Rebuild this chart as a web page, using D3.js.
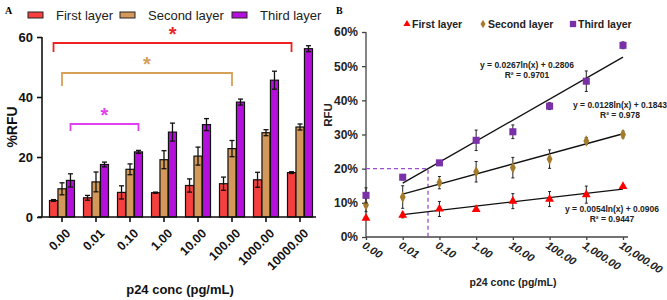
<!DOCTYPE html>
<html>
<head>
<meta charset="utf-8">
<script src="https://cdn.jsdelivr.net/npm/d3@7"></script>
<style>
  body { margin: 0; background: #fff; }
  svg { display: block; font-family: "Liberation Sans", Arial, sans-serif; }
</style>
</head>
<body>
<div id="chart"></div>
<script>
// data
const concA = ["0.00", "0.01", "0.10", "1.00", "10.00", "100.00", "1000.00", "10000.00"];
const concB = ["0.00", "0.01", "0.10", "1.00", "10.00", "100.00", "1,000.00", "10,000.00"];
const layerNames = ["First layer", "Second layer", "Third layer"];

const firstLayer = [5.5, 6.4, 8.2, 8.1, 10.5, 11.1, 12.4, 14.8];
const firstErr = [0.3, 0.8, 2.2, 0.2, 2.2, 2.2, 2.5, 0.3];
const secondLayer = [9.4, 11.7, 15.9, 19.1, 20.3, 22.8, 28.1, 30.0];
const secondErr = [2.0, 3.3, 1.8, 3.0, 3.0, 2.7, 1.0, 1.0];
const thirdLayer = [12.2, 17.5, 21.7, 28.3, 30.8, 38.3, 45.6, 56.1];
const thirdErr = [2.2, 0.8, 0.5, 3.0, 2.0, 1.0, 3.0, 1.0];

// log trendlines shown on panel B: y = a ln(x) + b
const trendSlope = [0.0054, 0.0128, 0.0267];
const trendIntercept = [0.0906, 0.1843, 0.2806];
const trendR2 = ["0.9447", "0.978", "0.9701"];

const yTicksA = [0, 20, 40, 60];
const yTicksB = [0, 0.1, 0.2, 0.3, 0.4, 0.5, 0.6];

const seriesVals = [firstLayer, secondLayer, thirdLayer];
const seriesErr = [firstErr, secondErr, thirdErr];
const barColors = ["#f5403f", "#d4995a", "#b50fdc"];
const markColors = ["#ff0000", "#a47a2c", "#7a30a6"];

const width = 667, height = 300;
const svg = d3.select("#chart").append("svg")
    .attr("width", width)
    .attr("height", height);

/* ---------- panel A ---------- */
let gA = svg.append("g");

let xA = d3.scaleBand().domain(concA).range([45, 317]);
let yA = d3.scaleLinear().domain([0, 60]).range([217, 37]);
let xInner = d3.scaleBand().domain([0, 1, 2]).range([-12.5, 12.5]).paddingInner(0.05);

gA.append("text").attr("x", 5).attr("y", 14)
    .style("font-family", "Liberation Serif, serif").style("font-weight", "bold").style("font-size", "10px")
    .text("A");

// legend
let legA = gA.append("g");
let legX = [28, 120, 232];
layerNames.forEach((name, i) => {
    legA.append("rect").attr("x", legX[i]).attr("y", 12).attr("width", 15).attr("height", 6)
        .attr("fill", barColors[i]).attr("stroke", "#222").attr("stroke-width", 1);
    legA.append("text").attr("x", legX[i] + 28).attr("y", 20)
        .style("font-size", "13px").attr("fill", "#222").text(name);
});

// bars
seriesVals.forEach((vals, s) => {
    let g = gA.append("g");
    g.selectAll("rect").data(vals).enter().append("rect")
        .attr("x", (d, i) => xA(concA[i]) + xA.bandwidth() / 2 + xInner(s))
        .attr("y", d => yA(d))
        .attr("width", xInner.bandwidth())
        .attr("height", d => yA(0) - yA(d))
        .attr("fill", barColors[s])
        .attr("stroke", "#111")
        .attr("stroke-width", 1.2);

    // error bars
    vals.forEach((d, i) => {
        let cx = xA(concA[i]) + xA.bandwidth() / 2 + xInner(s) + xInner.bandwidth() / 2;
        let e = seriesErr[s][i];
        g.append("line").attr("x1", cx).attr("x2", cx)
            .attr("y1", yA(d - e)).attr("y2", yA(d + e))
            .attr("stroke", "#111").attr("stroke-width", 1.3);
        [d - e, d + e].forEach(v => {
            g.append("line").attr("x1", cx - 2.5).attr("x2", cx + 2.5)
                .attr("y1", yA(v)).attr("y2", yA(v))
                .attr("stroke", "#111").attr("stroke-width", 1.3);
        });
    });
});

// axes
let axisYA = gA.append("g").attr("transform", "translate(42,0)")
    .call(d3.axisLeft(yA).tickValues(yTicksA).tickSize(5).tickFormat(d3.format("d")));
axisYA.selectAll("text").style("font-size", "13px").style("font-weight", "bold").attr("fill", "#111").attr("dx", "-1");
axisYA.select(".domain").attr("stroke", "#111").attr("stroke-width", 1.6).attr("d", "M0,217V37");
axisYA.selectAll(".tick line").attr("stroke", "#111").attr("stroke-width", 1.6);

let axisXA = gA.append("g").attr("transform", "translate(0,217)")
    .call(d3.axisBottom(xA).tickSize(5).tickSizeOuter(0));
axisXA.select(".domain").attr("stroke", "#111").attr("stroke-width", 1.6).attr("d", "M38,0H316");
axisXA.selectAll(".tick line").attr("stroke", "#111").attr("stroke-width", 1.6);
axisXA.selectAll("text")
    .style("font-size", "12.5px").style("font-weight", "bold").attr("fill", "#111")
    .attr("text-anchor", "end")
    .attr("transform", "translate(6,14) rotate(-45)")
    .attr("x", 0).attr("y", 0).attr("dy", "0.35em");

gA.append("text").attr("transform", "translate(17,127) rotate(-90)")
    .attr("text-anchor", "middle")
    .style("font-size", "14px").style("font-weight", "bold").attr("fill", "#111")
    .text("%RFU");

gA.append("text").attr("x", 180).attr("y", 294)
    .attr("text-anchor", "middle")
    .style("font-size", "13px").style("font-weight", "bold").attr("fill", "#111")
    .text("p24 conc (pg/mL)");

// significance brackets: [series, from index, to index, y level]
const brackets = [[0, 0, 7, 58], [1, 0, 5, 48], [2, 0, 2, 31]];
brackets.forEach(([s, i0, i1, lvl]) => {
    let xa = xA(concA[i0]) + xA.bandwidth() / 2 + xInner(s) + xInner.bandwidth() / 2;
    let xb = xA(concA[i1]) + xA.bandwidth() / 2 + xInner(s) + xInner.bandwidth() / 2;
    let yy = yA(lvl);
    let drop = s == 2 ? 7 : (s == 1 ? 13 : 9);
    let col = [ "#ee2222", "#d6a056", "#e040f0"][s];
    gA.append("path")
        .attr("d", `M${xa},${yy + drop}V${yy}H${xb}V${yy + drop}`)
        .attr("fill", "none").attr("stroke", col).attr("stroke-width", 1.8);
    gA.append("text").attr("x", (xa + xb) / 2).attr("y", yy - 2)
        .attr("text-anchor", "middle")
        .style("font-size", "20px").style("font-weight", "bold").attr("fill", col)
        .text("*");
});

/* ---------- panel B ---------- */
let gB = svg.append("g");

let xB = d3.scalePoint().domain(concB).range([366, 623]);
let yB = d3.scaleLinear().domain([0, 0.6]).range([237, 32]);
// trendlines use the log position of the concentration
let xLog = d3.scaleLinear().domain([-2, 4]).range([xB(concB[1]), xB(concB[7])]);

gB.append("text").attr("x", 336).attr("y", 14)
    .style("font-family", "Liberation Serif, serif").style("font-weight", "bold").style("font-size", "10px")
    .text("B");

let axisYB = gB.append("g").attr("transform", "translate(366,0)")
    .call(d3.axisLeft(yB).tickValues(yTicksB).tickSize(4).tickFormat(d3.format(".0%")));
axisYB.selectAll("text").style("font-size", "12px").style("font-weight", "bold").attr("fill", "#222").attr("dx", "-1");
axisYB.select(".domain").attr("stroke", "#444").attr("stroke-width", 1.3).attr("d", "M0,237V32");
axisYB.selectAll(".tick line").attr("stroke", "#444").attr("stroke-width", 1.3);

let axisXB = gB.append("g").attr("transform", "translate(0,237)")
    .call(d3.axisBottom(xB).tickSize(3).tickSizeOuter(0));
axisXB.select(".domain").attr("stroke", "#444").attr("stroke-width", 1.3).attr("d", "M366,0H628");
axisXB.selectAll(".tick line").attr("stroke", "#444").attr("stroke-width", 1.3);
axisXB.selectAll("text")
    .style("font-size", "11px").style("font-weight", "bold").style("font-style", "italic").attr("fill", "#222")
    .attr("text-anchor", "start")
    .attr("transform", "translate(-3,7) rotate(33)")
    .attr("x", 0).attr("y", 0).attr("dy", "0.35em");

gB.append("text").attr("transform", "translate(332,115) rotate(-90)")
    .attr("text-anchor", "middle")
    .style("font-size", "11.5px").style("font-weight", "bold").attr("fill", "#222")
    .text("RFU");

gB.append("text").attr("x", 513).attr("y", 286)
    .attr("text-anchor", "middle")
    .style("font-size", "10.5px").style("font-weight", "bold").attr("fill", "#222")
    .text("p24 conc (pg/mL)");

// dashed guide where the third-layer trendline crosses 20%
let cross = (0.2 - trendIntercept[2]) / trendSlope[2] / Math.LN10;
gB.append("path")
    .attr("d", `M366,${yB(0.2)}H${xLog(cross)}V237`)
    .attr("fill", "none").attr("stroke", "#9b4fd0").attr("stroke-width", 1.3).attr("stroke-dasharray", "4,3");

// trendlines
trendSlope.forEach((a, s) => {
    let f = lg => a * lg * Math.LN10 + trendIntercept[s];
    gB.append("line")
        .attr("x1", xLog(-2)).attr("y1", yB(f(-2)))
        .attr("x2", xLog(4)).attr("y2", yB(f(4)))
        .attr("stroke", "#111").attr("stroke-width", 1.3);
});

// error bars and markers
let symbols = [d3.symbolTriangle, d3.symbolDiamond, d3.symbolSquare];
let symSize = [34, 30, 50];
seriesVals.forEach((vals, s) => {
    let g = gB.append("g");
    vals.forEach((d, i) => {
        let e = seriesErr[s][i] / 100;
        let cx = xB(concB[i]);
        if (e > 0.004) {
            g.append("line").attr("x1", cx).attr("x2", cx)
                .attr("y1", yB(d / 100 - e)).attr("y2", yB(d / 100 + e))
                .attr("stroke", "#222").attr("stroke-width", 1);
            [d / 100 - e, d / 100 + e].forEach(v => {
                g.append("line").attr("x1", cx - 1.5).attr("x2", cx + 1.5)
                    .attr("y1", yB(v)).attr("y2", yB(v))
                    .attr("stroke", "#222").attr("stroke-width", 1);
            });
        }
    });
    g.selectAll("path.mark").data(vals).enter().append("path")
        .attr("class", "mark")
        .attr("d", d3.symbol().type(symbols[s]).size(symSize[s]))
        .attr("transform", (d, i) => `translate(${xB(concB[i])},${yB(d / 100)})` + (s == 1 ? " scale(1,1.15)" : ""))
        .attr("fill", markColors[s]);
});

// legend
let legB = gB.append("g");
let legBX = [407, 483, 573];
layerNames.forEach((name, i) => {
    legB.append("path")
        .attr("d", d3.symbol().type(symbols[i]).size(i == 2 ? 40 : 22))
        .attr("transform", `translate(${legBX[i]},24)`)
        .attr("fill", markColors[i]);
    legB.append("text").attr("x", legBX[i] + 5).attr("y", 28)
        .style("font-size", "10.5px").style("font-weight", "bold").attr("fill", "#222").text(name);
});

// equation labels
const eqPos = [[612, 212], [620, 108], [527, 68]];
trendSlope.forEach((a, s) => {
    let t = gB.append("text").attr("text-anchor", "middle")
        .style("font-size", "8.5px").style("font-weight", "bold").attr("fill", "#222");
    t.append("tspan").attr("x", eqPos[s][0]).attr("y", eqPos[s][1])
        .text(`y = ${a}ln(x) + ${trendIntercept[s]}`);
    t.append("tspan").attr("x", eqPos[s][0]).attr("y", eqPos[s][1] + 10)
        .text(`R² = ${trendR2[s]}`);
});
</script>
</body>
</html>
